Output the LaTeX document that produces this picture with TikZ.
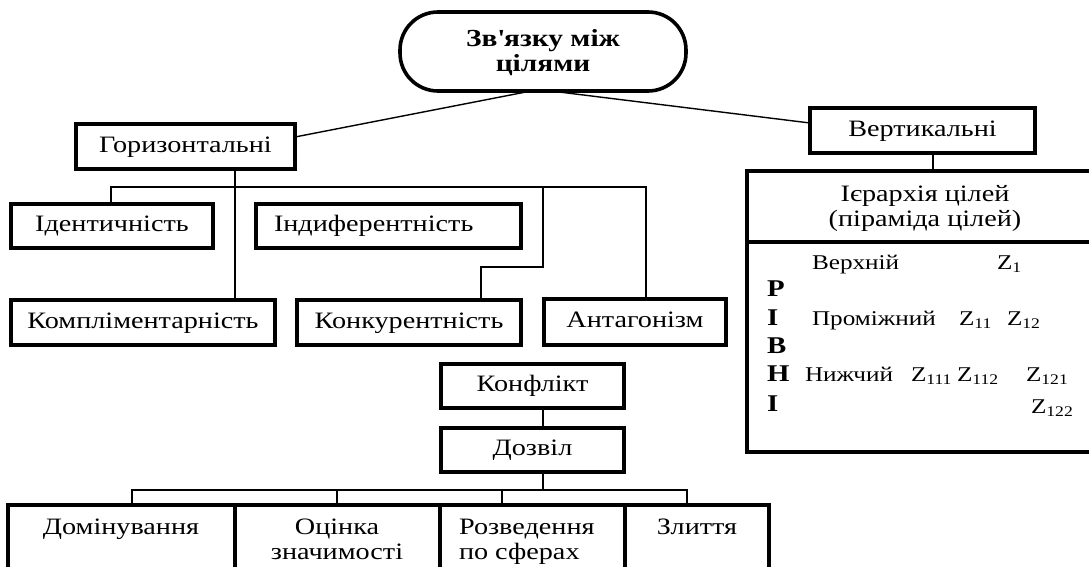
\documentclass[tikz,border=0pt]{standalone}
\usepackage{fontspec}
\setmainfont{Liberation Serif}[FakeStretch=1.2]
\usetikzlibrary{calc}
\newcommand\zz[1]{Z\textsubscript{#1}}
\begin{document}
\begin{tikzpicture}[x=1pt,y=-1pt,
  box/.style={draw, line width=3.6pt, inner sep=0pt, outer sep=0pt,
    font=\fontsize{23.5}{25}\selectfont, text height=16pt, text depth=5pt},
  conn/.style={line width=1.4pt},
  txt/.style={inner sep=0pt, outer sep=0pt, font=\fontsize{23.5}{25}\selectfont},
  stxt/.style={inner sep=0pt, outer sep=0pt, font=\fontsize{21}{25}\selectfont},
  btxt/.style={inner sep=0pt, outer sep=0pt, font=\fontsize{24}{28}\selectfont\bfseries},
  ttxt/.style={inner sep=0pt, outer sep=0pt, font=\fontsize{24.5}{28}\selectfont\bfseries}]
\useasboundingbox (0,0) rectangle (1089,567);
\clip (0,0) rectangle (1089,567);
% top
\node[draw, line width=3.6pt, rounded corners=38pt, minimum width=286pt, minimum height=79pt,
  inner sep=0pt, outer sep=0pt] (top) at (543,51.5) {};
\node[ttxt, anchor=base] (top1) at (543,47) {Зв\textquotesingle язку між};
\node[ttxt, anchor=base] (top2) at (543,72) {цілями};
\node[box, minimum width=219pt, minimum height=45pt] (hor) at (185.5,146.5) {Горизонтальні};
\node[box, minimum width=225pt, minimum height=45pt] (ver) at (922.5,130.5) {Вертикальні};
% hierarchy
\node[box, minimum width=358pt, minimum height=71pt] (ier) at (926,206.5) {};
\node[box, minimum width=358pt, minimum height=210pt] (lev) at (926,347) {};
\node[txt, anchor=base] (iert1) at (925,201) {Ієрархія цілей};
\node[txt, anchor=base] (iert2) at (925,226) {(піраміда цілей)};
\node[stxt, anchor=base west] (l1) at (812,269) {Верхній};
\node[stxt, anchor=base west] (z1) at (997,269) {\zz{1}};
\node[btxt, anchor=base west] (rR) at (767,296) {Р};
\node[btxt, anchor=base west] (rI) at (767,325) {І};
\node[stxt, anchor=base west] (l2) at (812,325) {Проміжний};
\node[stxt, anchor=base west] (z11) at (959,325) {\zz{11}};
\node[stxt, anchor=base west] (z12) at (1007,325) {\zz{12}};
\node[btxt, anchor=base west] (rV) at (767,353) {В};
\node[btxt, anchor=base west] (rN) at (767,381) {Н};
\node[stxt, anchor=base west] (l3) at (805,381) {Нижчий};
\node[stxt, anchor=base west] (z111) at (911,381) {\zz{111}};
\node[stxt, anchor=base west] (z112) at (957,381) {\zz{112}};
\node[stxt, anchor=base west] (z121) at (1026,381) {\zz{121}};
\node[btxt, anchor=base west] (rI2) at (767,411) {І};
\node[stxt, anchor=base west] (z122) at (1031,413) {\zz{122}};
% horizontal group
\node[box, minimum width=202pt, minimum height=44pt] (ident) at (112,226) {Ідентичність};
\node[box, minimum width=265pt, minimum height=44pt] (indif) at (388.5,226) {};
\node[txt, anchor=base west] (indift) at (274,231) {Індиферентність};
\node[box, minimum width=264pt, minimum height=45pt] (compl) at (143,322.5) {Компліментарність};
\node[box, minimum width=224pt, minimum height=45pt] (konk) at (409,322.5) {Конкурентність};
\node[box, minimum width=182pt, minimum height=46pt] (antag) at (635,322) {Антагонізм};
\node[box, minimum width=183pt, minimum height=44pt] (konf) at (532.5,386) {Конфлікт};
\node[box, minimum width=183pt, minimum height=44pt] (dozv) at (532.5,450) {Дозвіл};
% bottom row
\node[box, minimum width=227pt, minimum height=80pt] (dom) at (121.5,545) {};
\node[box, minimum width=205pt, minimum height=80pt] (ocin) at (337.5,545) {};
\node[box, minimum width=185pt, minimum height=80pt] (rozv) at (532.5,545) {};
\node[box, minimum width=144pt, minimum height=80pt] (zlit) at (697,545) {};
\node[txt, anchor=base] (domt) at (121,534) {Домінування};
\node[txt, anchor=base] (ocin1) at (337,534) {Оцінка};
\node[txt, anchor=base] (ocin2) at (337,559) {значимості};
\node[txt, anchor=base west] (rozv1) at (459,534) {Розведення};
\node[txt, anchor=base west] (rozv2) at (459,559) {по сферах};
\node[txt, anchor=base] (zlitt) at (697,534) {Злиття};
% connectors
\draw[conn] ([xshift=-12pt]top.south) -- ([yshift=9.5pt]hor.east);
\draw[conn] ([xshift=8pt]top.south) -- ([yshift=7.5pt]ver.west);
\coordinate (xs) at (235,0);
\draw[conn] (hor.south -| xs) -- (compl.north -| xs);
\coordinate (b1) at (111,187);
\coordinate (b2) at (646,187);
\draw[conn] (b1 |- ident.north) -- (b1) -- (b2) -- (b2 |- antag.north);
\coordinate (kj) at (543,187);
\coordinate (kx) at (481,267);
\draw[conn] (kj) |- (kx) -- (kx |- konk.north);
\coordinate (vx) at (933,0);
\draw[conn] (ver.south -| vx) -- (ier.north -| vx);
\coordinate (dx) at (543,490);
\draw[conn] (konf.south -| dx) -- (dozv.north -| dx);
\draw[conn] (dozv.south -| dx) -- (dx);
\coordinate (c1) at (132,490);
\coordinate (c2) at (337,490);
\coordinate (c3) at (502,490);
\coordinate (c4) at (687,490);
\draw[conn] (c1 |- dom.north) -- (c1) -- (c4) -- (c4 |- zlit.north);
\draw[conn] (c2) -- (c2 |- ocin.north);
\draw[conn] (c3) -- (c3 |- rozv.north);
\end{tikzpicture}
\end{document}
